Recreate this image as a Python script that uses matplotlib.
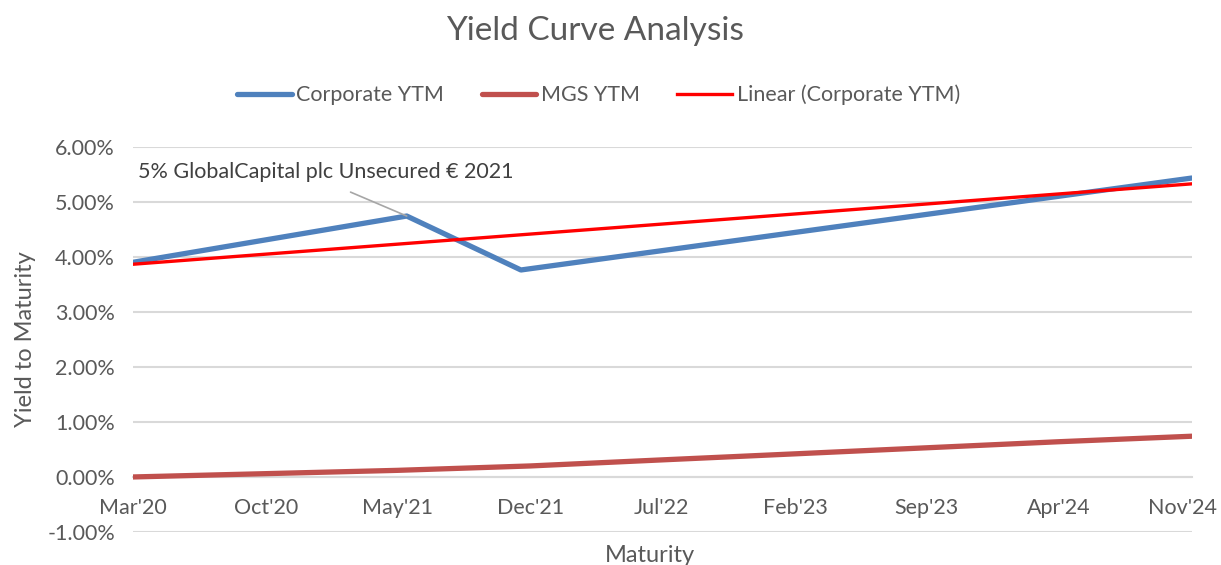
import numpy as np
import matplotlib.pyplot as plt
import matplotlib.dates as mdates
import matplotlib.transforms as mtransforms
from datetime import date

plt.rcParams['font.family'] = ['Lato', 'DejaVu Sans']

# Corporate bond yields (maturity dates, % YTM)
corp_dates = [date(2020, 3, 1), date(2021, 5, 16), date(2021, 11, 16), date(2024, 11, 1)]
corp_ytm = [3.90, 4.74, 3.76, 5.43]

# MGS yields
mgs_dates = [date(2020, 3, 1), date(2020, 10, 1), date(2021, 5, 1), date(2021, 12, 1),
             date(2022, 7, 1), date(2023, 2, 1), date(2023, 9, 1), date(2024, 4, 1),
             date(2024, 11, 1)]
mgs_ytm = [0.00, 0.06, 0.12, 0.20, 0.31, 0.42, 0.53, 0.64, 0.74]

tick_dates = [date(2020, 3, 1), date(2020, 10, 1), date(2021, 5, 1), date(2021, 12, 1),
              date(2022, 7, 1), date(2023, 2, 1), date(2023, 9, 1), date(2024, 4, 1),
              date(2024, 11, 1)]
tick_labels = ["Mar'20", "Oct'20", "May'21", "Dec'21", "Jul'22", "Feb'23", "Sep'23", "Apr'24", "Nov'24"]
y_ticks = [-1, 0, 1, 2, 3, 4, 5, 6]

text_col = '#595959'
fs = 15.5

fig = plt.figure(figsize=(12.21, 5.65), dpi=100)
ax = fig.add_axes([0.109, 0.0584, 0.867, 0.682])

cx = mdates.date2num(corp_dates)
mx = mdates.date2num(mgs_dates)

# linear trendline of corporate YTM
coef = np.polyfit(cx, corp_ytm, 1)
tx = np.array([mdates.date2num(tick_dates[0]), mdates.date2num(tick_dates[-1])])

ax.plot(cx, corp_ytm, color='#4F81BD', lw=3.8, solid_capstyle='round', label='Corporate YTM', zorder=3)
ax.plot(mx, mgs_ytm, color='#C0504D', lw=3.8, solid_capstyle='round', label='MGS YTM', zorder=3)
ax.plot(tx, np.polyval(coef, tx), color='#FF0000', lw=2.4, label='Linear (Corporate YTM)', zorder=4)

for s in ax.spines.values():
    s.set_visible(False)
ax.spines['bottom'].set_visible(True)
ax.spines['bottom'].set_position(('data', 0))
ax.spines['bottom'].set_color('#D9D9D9')
ax.spines['bottom'].set_linewidth(1.5)

ax.set_xlim(tx[0], tx[-1])
ax.set_ylim(-1, 6)
ax.set_yticks(y_ticks)
ax.set_yticklabels([f'{v:.2f}%' for v in y_ticks])
ax.set_xticks(mdates.date2num(tick_dates))
ax.set_xticklabels(tick_labels)
ax.tick_params(axis='both', length=0, labelsize=fs, labelcolor=text_col)
ax.tick_params(axis='x', pad=15)
ax.tick_params(axis='y', pad=13)
ax.grid(axis='y', color='#D9D9D9', lw=1.5)
ax.set_axisbelow(True)

# keep the last month label inside the figure, as Excel does
last = ax.get_xticklabels()[-1]
last.set_transform(last.get_transform() + mtransforms.ScaledTranslation(-0.09, 0, fig.dpi_scale_trans))

ax.set_ylabel('Yield to Maturity', fontsize=17, color=text_col, labelpad=8)
ax.set_xlabel('Maturity', fontsize=17, color=text_col)
ax.xaxis.set_label_coords(0.488, -0.034)

fig.text(0.487, 0.945, 'Yield Curve Analysis', ha='center', va='center', fontsize=24, color=text_col)

ax.annotate('5% GlobalCapital plc Unsecured € 2021', xy=(cx[1], corp_ytm[1]),
            xytext=(0.005, 0.935), textcoords='axes fraction', fontsize=fs, color='#404040',
            ha='left', va='center',
            arrowprops=dict(arrowstyle='-', color='#A6A6A6', lw=1.2, shrinkA=14, shrinkB=0,
                            relpos=(0.5, 0.0)))

leg = fig.legend(loc='center', bbox_to_anchor=(0.49, 0.832), ncol=3, frameon=False,
                 fontsize=fs, handlelength=2.55, handletextpad=0.2, columnspacing=1.75)
for t in leg.get_texts():
    t.set_color(text_col)

fig.savefig('out.png', dpi=100)
